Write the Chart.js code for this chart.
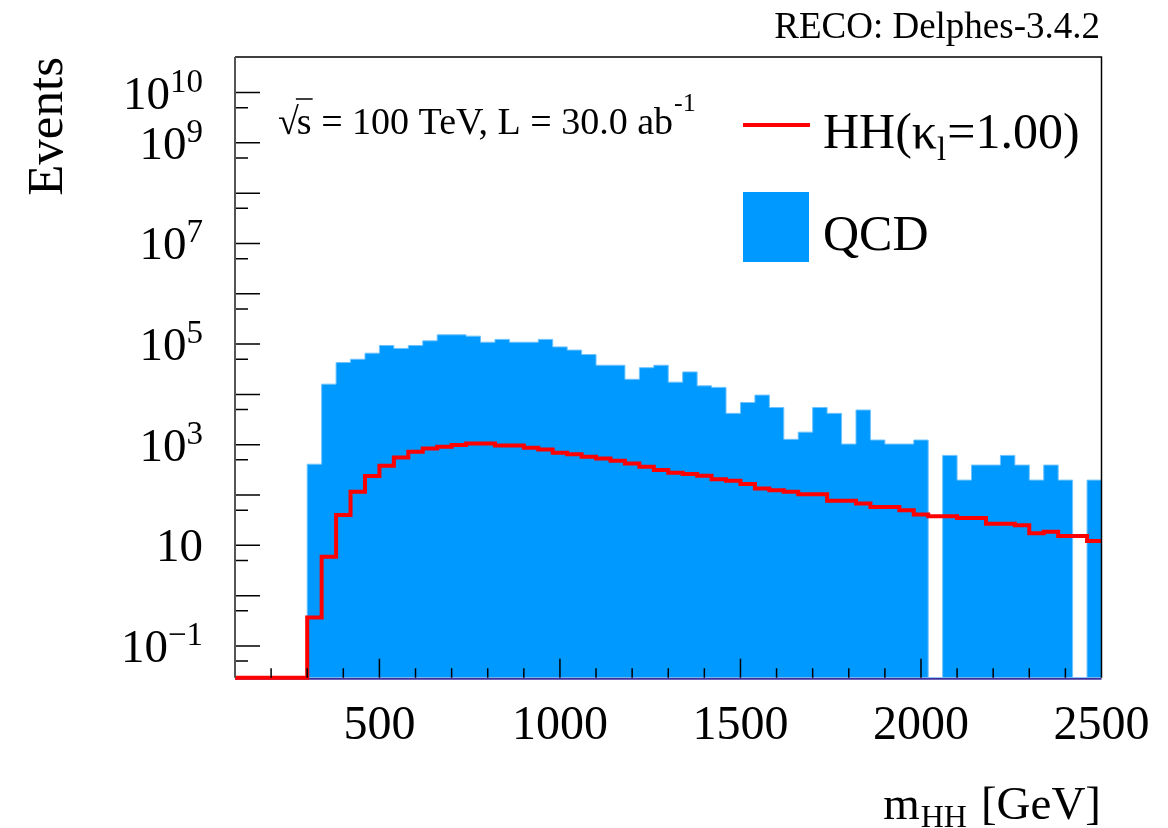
<!DOCTYPE html>
<html>
<head>
<meta charset="utf-8">
<script src="https://cdn.jsdelivr.net/npm/chart.js@4.4.0/dist/chart.umd.min.js"></script>
<style>
  html, body { margin: 0; padding: 0; background: #fff; }
  #wrap { width: 1168px; height: 828px; }
</style>
</head>
<body>
<div id="wrap"><canvas id="c"></canvas></div>
<script>
// m_HH bin edges [GeV]
var binEdges = [100,140,180,220,260,300,340,380,420,460,500,540,580,620,660,700,740,780,820,860,
  900,940,980,1020,1060,1100,1140,1180,1220,1260,1300,1340,1380,1420,1460,1500,1540,1580,1620,1660,
  1700,1740,1780,1820,1860,1900,1940,1980,2020,2060,2100,2140,2180,2220,2260,2300,2340,2380,2420,2460,2500];

// events per bin
var qcdValues = [0,0,0,0,0,410,1.6e4,4.3e4,5.0e4,6.6e4,
  9.4e4,8.2e4,9.4e4,1.16e5,1.53e5,1.53e5,1.44e5,1.09e5,1.24e5,1.09e5,
  1.09e5,1.24e5,8.8e4,7.6e4,6.2e4,3.8e4,3.8e4,2.0e4,3.4e4,3.8e4,
  1.75e4,2.8e4,1.48e4,1.38e4,4.2e3,6.9e3,9.7e3,5.5e3,1.28e3,1.78e3,
  5.5e3,4.2e3,1.03e3,4.9e3,1.24e3,1.03e3,1.03e3,1.24e3,0,614,
  198,394,394,614,394,198,394,198,0,198];

var hhValues = [0,0,0,0,0,0.37,5.9,40,116,238,
  381,560,723,845,910,982,1060,1060,968,968,
  869,807,690,650,575,535,479,425,364,313,
  277,261,241,205,192,165,135,125,116,104,
  104,77,77,68,58,58,50,41,38,38,
  35,35,27,27,25,17.3,18.6,15.3,15.3,12.2];

var xTickValues = [500,1000,1500,2000,2500];
var xTickLabels = ['500','1000','1500','2000','2500'];
var yTickValues = [1e10,1e9,1e7,1e5,1e3,10,0.1];
var yTickExps = ['10','9','7','5','3','','\u22121'];

var Y_MIN = 0.0234, Y_MAX = 5.09e10;
var QCD_BLUE = 'rgb(0,153,255)';
var SERIF = '"Liberation Serif", "DejaVu Serif", serif';

// empty bins sit on the axis floor (log scale can't take 0)
function histPoints(vals) {
  var pts = [];
  for (var i = 0; i < vals.length; i++) pts.push({x: binEdges[i], y: Math.max(vals[i], Y_MIN)});
  pts.push({x: binEdges[binEdges.length - 1], y: Math.max(vals[vals.length - 1], Y_MIN)});
  return pts;
}

function txt(ctx, s, x, y, size, align) {
  ctx.font = size + 'px ' + SERIF;
  ctx.textAlign = align || 'left';
  ctx.textBaseline = 'alphabetic';
  ctx.fillText(s, x, y);
  return ctx.measureText(s).width;
}

var rootStyle = {
  id: 'rootStyle',
  beforeDatasetsDraw: function(chart) {
    var ctx = chart.ctx, a = chart.chartArea;
    ctx.save();
    ctx.strokeStyle = '#3b2f9c';
    ctx.lineWidth = 2;
    ctx.beginPath();
    ctx.moveTo(a.left, a.bottom + 1); ctx.lineTo(a.right, a.bottom + 1);
    ctx.stroke();
    ctx.restore();
  },
  afterDatasetsDraw: function(chart) {
    var ctx = chart.ctx, a = chart.chartArea;
    var xs = chart.scales.x, ys = chart.scales.y;
    ctx.save();
    ctx.strokeStyle = '#000';
    ctx.lineWidth = 1.5;
    // x ticks, pointing inwards
    ctx.beginPath();
    for (var v = 200; v < 2500; v += 100) {
      var px = xs.getPixelForValue(v);
      var len = (v % 500 === 0) ? 19 : 9.5;
      ctx.moveTo(px, a.bottom);
      ctx.lineTo(px, a.bottom - len);
    }
    // y ticks: decades and 5x decades
    for (var e = -2; e <= 10; e++) {
      var major = Math.pow(10, e), minor = 5 * Math.pow(10, e);
      if (major >= ys.min && major <= ys.max) {
        var py = ys.getPixelForValue(major);
        ctx.moveTo(a.left, py); ctx.lineTo(a.left + 25, py);
      }
      if (minor >= ys.min && minor < ys.max * 0.98) {
        var py2 = ys.getPixelForValue(minor);
        ctx.moveTo(a.left, py2); ctx.lineTo(a.left + 13, py2);
      }
    }
    ctx.stroke();
    // frame
    ctx.beginPath();
    ctx.moveTo(a.left, a.top); ctx.lineTo(a.right, a.top); ctx.lineTo(a.right, a.bottom);
    ctx.stroke();
    ctx.strokeStyle = '#555';
    ctx.lineWidth = 2;
    ctx.beginPath();
    ctx.moveTo(a.left, a.top); ctx.lineTo(a.left, a.bottom);
    ctx.stroke();
    ctx.restore();
  },
  afterDraw: function(chart) {
    var ctx = chart.ctx;
    var xs = chart.scales.x, ys = chart.scales.y;
    ctx.save();
    ctx.fillStyle = '#000';

    // x tick labels
    xTickValues.forEach(function(v, i) {
      txt(ctx, xTickLabels[i], xs.getPixelForValue(v), 739, 48, 'center');
    });

    // y tick labels 10^n
    yTickValues.forEach(function(v, i) {
      var py = ys.getPixelForValue(v);
      var ex = yTickExps[i];
      var right = 203;
      if (ex) {
        var w = txt(ctx, ex, right, py - 1, 33, 'right');
        txt(ctx, '10', right - w, py + 16, 47, 'right');
      } else {
        txt(ctx, '10', right, py + 16, 47, 'right');
      }
    });

    // axis titles
    ctx.save();
    ctx.translate(62, 57);
    ctx.rotate(-Math.PI / 2);
    txt(ctx, 'Events', 0, 0, 51, 'right');
    ctx.restore();

    var wg = txt(ctx, '[GeV]', 1101, 819, 47, 'right');
    var xs2 = 1101 - wg - 14;
    var wsub = txt(ctx, 'HH', xs2, 827, 32, 'right');
    txt(ctx, 'm', xs2 - wsub - 1, 819, 47, 'right');

    // top right label
    txt(ctx, 'RECO: Delphes-3.4.2', 1100, 38, 37, 'right');

    // energy / lumi annotation
    var x0 = 278, by = 134, fs = 38;
    var wr = txt(ctx, '\u221A', x0, by, fs, 'left');
    var sx = x0 + wr - 2;
    var wsx = txt(ctx, 's', sx, by, fs, 'left');
    ctx.strokeStyle = '#000';
    ctx.lineWidth = 1.5;
    ctx.beginPath();
    ctx.moveTo(sx - 1, by - 35);
    ctx.lineTo(sx + wsx + 1, by - 35);
    ctx.stroke();
    var w2 = txt(ctx, ' = 100 TeV, L = 30.0 ab', sx + wsx, by, fs, 'left');
    txt(ctx, '-1', sx + wsx + w2 + 1, by - 23, 26, 'left');

    // legend
    ctx.strokeStyle = '#ff0000';
    ctx.lineWidth = 4;
    ctx.beginPath();
    ctx.moveTo(743, 125); ctx.lineTo(810, 125);
    ctx.stroke();
    var w3 = txt(ctx, 'HH(\u03BA', 823, 148, 50, 'left');
    var w4 = txt(ctx, 'l', 823 + w3, 160, 33, 'left');
    txt(ctx, '=1.00)', 823 + w3 + w4 + 1, 148, 50, 'left');

    ctx.fillStyle = QCD_BLUE;
    ctx.fillRect(743, 192, 66, 70);
    ctx.fillStyle = '#000';
    txt(ctx, 'QCD', 823, 250, 50, 'left');

    ctx.restore();
  }
};

new Chart(document.getElementById('c'), {
  type: 'line',
  data: {
    datasets: [
      {
        label: 'HH(\u03BA_l=1.00)',
        data: histPoints(hhValues),
        stepped: 'before',
        borderColor: '#ff0000',
        borderWidth: 4,
        pointRadius: 0,
        fill: false,
        clip: false,
        order: 0
      },
      {
        label: 'QCD',
        data: histPoints(qcdValues),
        stepped: 'before',
        borderColor: 'rgba(110,195,255,1)',
        borderWidth: 1,
        backgroundColor: QCD_BLUE,
        pointRadius: 0,
        fill: 'start',
        order: 1
      }
    ]
  },
  options: {
    responsive: true,
    maintainAspectRatio: false,
    animation: false,
    events: [],
    layout: { padding: { left: 235, right: 66.5, top: 57, bottom: 150.3 } },
    plugins: { legend: { display: false }, tooltip: { enabled: false } },
    scales: {
      x: { type: 'linear', min: 100, max: 2500, display: false },
      y: { type: 'logarithmic', min: Y_MIN, max: Y_MAX, display: false }
    }
  },
  plugins: [rootStyle]
});
</script>
</body>
</html>
